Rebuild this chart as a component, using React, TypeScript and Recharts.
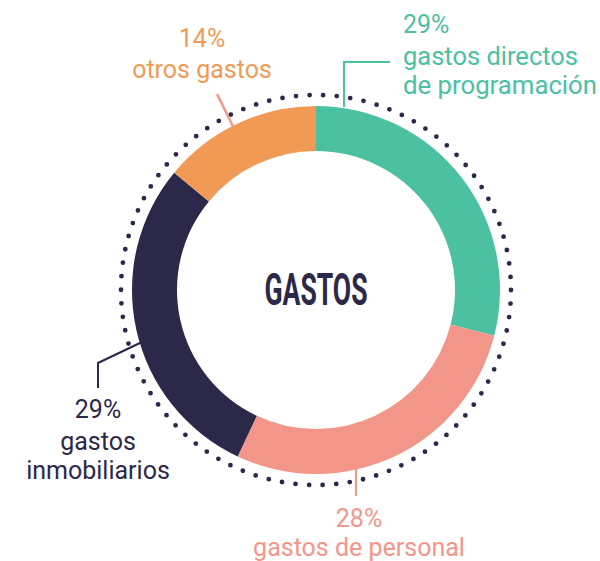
import React from 'react';
import { PieChart, Pie, Cell, Customized } from 'recharts';

const categories = ['gastos directos de programación', 'gastos de personal', 'gastos inmobiliarios', 'otros gastos'];
const values = [29, 28, 29, 14];
const percentLabels = ['29%', '28%', '29%', '14%'];
const labelLines: string[][] = [
  ['gastos directos', 'de programación'],
  ['gastos de personal'],
  ['gastos', 'inmobiliarios'],
  ['otros gastos'],
];
const colors = ['#4cc1a1', '#f3968a', '#2c2849', '#f19a55'];
const title = 'GASTOS';

const data = categories.map((name, i) => ({ name, value: values[i] }));

const CX = 316;
const CY = 290;
const FONT = 'Roboto, "Noto Sans", sans-serif';

const Overlay = () => {
  const dotR = 195;
  const circ = 2 * Math.PI * dotR;
  const gap = circ / 90;
  return (
    <g>
      <circle cx={CX} cy={CY} r={dotR} fill="none" stroke="#2c2849" strokeWidth={4.8}
        strokeLinecap="round" strokeDasharray={`0 ${gap}`} />
      <text x={CX} y={305} textAnchor="middle" fontFamily={FONT} fontWeight={700} fontSize={45}
        fill="#2c2849" textLength={103} lengthAdjust="spacingAndGlyphs">{title}</text>

      {/* green label */}
      <polyline points="344,107 344,62 390,62" fill="none" stroke={colors[0]} strokeWidth={2} />
      <g fontFamily={FONT} fontSize={25} fontWeight={400} fill={colors[0]} textAnchor="start">
        <text x={403} y={33}>{percentLabels[0]}</text>
        <text x={403} y={65} textLength={175} lengthAdjust="spacingAndGlyphs">{labelLines[0][0]}</text>
        <text x={403} y={94} textLength={194} lengthAdjust="spacingAndGlyphs">{labelLines[0][1]}</text>
      </g>

      {/* salmon label */}
      <line x1={356} y1={469} x2={356} y2={496} stroke={colors[1]} strokeWidth={2} />
      <g fontFamily={FONT} fontSize={25} fontWeight={400} fill={colors[1]} textAnchor="middle">
        <text x={359} y={527}>{percentLabels[1]}</text>
        <text x={359} y={556}>{labelLines[1][0]}</text>
      </g>

      {/* navy label */}
      <polyline points="98,388 98,363 142,342" fill="none" stroke={colors[2]} strokeWidth={2} />
      <g fontFamily={FONT} fontSize={25} fontWeight={400} fill={colors[2]} textAnchor="middle">
        <text x={98} y={418}>{percentLabels[2]}</text>
        <text x={98} y={450}>{labelLines[2][0]}</text>
        <text x={98} y={479}>{labelLines[2][1]}</text>
      </g>

      {/* orange label */}
      <line x1={217} y1={94} x2={251} y2={163} stroke={colors[1]} strokeWidth={2.5} />
      <g fontFamily={FONT} fontSize={25} fontWeight={400} fill={colors[3]} textAnchor="middle">
        <text x={202} y={47}>{percentLabels[3]}</text>
        <text x={202} y={78}>{labelLines[3][0]}</text>
      </g>
    </g>
  );
};

export default function App() {
  return (
    <div style={{ position: 'absolute', left: 0, top: 0, width: 600, height: 561, background: '#fff' }}>
      <PieChart width={600} height={561} margin={{ top: 0, right: 0, bottom: 0, left: 0 }}>
        <Pie
          data={data}
          dataKey="value"
          nameKey="name"
          cx={CX}
          cy={CY}
          innerRadius={139}
          outerRadius={184}
          startAngle={90}
          endAngle={-270}
          stroke="none"
          isAnimationActive={false}
        >
          {data.map((d, i) => (
            <Cell key={d.name} fill={colors[i]} />
          ))}
        </Pie>
        <Customized component={<Overlay />} />
      </PieChart>
    </div>
  );
}
